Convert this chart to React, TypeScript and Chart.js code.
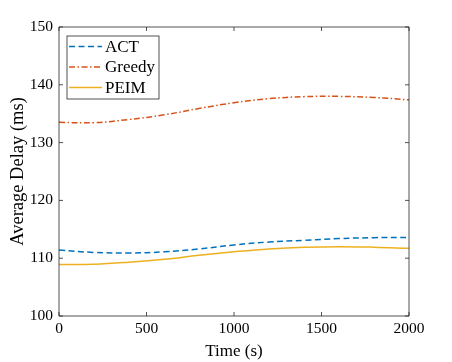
import React, { useEffect, useRef } from "react";
import { Chart, registerables } from "chart.js";

Chart.register(...registerables);

const times = [0, 200, 400, 600, 800, 1000, 1200, 1400, 1600, 1800, 2000];
const actValues = [111.4, 111.0, 110.9, 111.1, 111.6, 112.3, 112.8, 113.1, 113.4, 113.55, 113.6];
const greedyValues = [133.5, 133.45, 134.0, 134.8, 135.9, 136.9, 137.6, 137.95, 138.0, 137.8, 137.4];
const peimValues = [108.9, 108.95, 109.3, 109.8, 110.5, 111.1, 111.6, 111.9, 112.0, 111.9, 111.7];
const xTicks = [0, 500, 1000, 1500, 2000];
const yTicks = [100, 110, 120, 130, 140, 150];
const seriesNames = ["ACT", "Greedy", "PEIM"];

const FONT = "'Times New Roman', 'Liberation Serif', serif";
const AXIS_COLOR = "#262626";

const framePlugin = {
  id: "matlabFrame",
  afterDatasetsDraw(chart: any) {
    const { ctx, chartArea } = chart;
    const { left, right, top, bottom } = chartArea;
    const xs = chart.scales.x;
    const ys = chart.scales.y;
    ctx.save();
    ctx.strokeStyle = AXIS_COLOR;
    ctx.lineWidth = 0.8;
    ctx.beginPath();
    ctx.rect(left, top, right - left, bottom - top);
    const tl = 4;
    xTicks.forEach((v) => {
      const px = xs.getPixelForValue(v);
      ctx.moveTo(px, bottom);
      ctx.lineTo(px, bottom - tl);
      ctx.moveTo(px, top);
      ctx.lineTo(px, top + tl);
    });
    yTicks.forEach((v) => {
      const py = ys.getPixelForValue(v);
      ctx.moveTo(left, py);
      ctx.lineTo(left + tl, py);
      ctx.moveTo(right, py);
      ctx.lineTo(right - tl, py);
    });
    ctx.stroke();

    // legend
    const lx = left + 8;
    const ly = top + 9;
    const lw = 92;
    const lh = 63;
    ctx.fillStyle = "#ffffff";
    ctx.fillRect(lx, ly, lw, lh);
    ctx.strokeStyle = AXIS_COLOR;
    ctx.lineWidth = 0.8;
    ctx.strokeRect(lx, ly, lw, lh);
    ctx.font = `17px ${FONT}`;
    ctx.textBaseline = "middle";
    ctx.textAlign = "left";
    chart.data.datasets.forEach((ds: any, i: number) => {
      const ry = ly + 10.5 + i * 20.5;
      ctx.beginPath();
      ctx.strokeStyle = ds.borderColor;
      ctx.lineWidth = ds.borderWidth;
      ctx.setLineDash(ds.borderDash || []);
      ctx.moveTo(lx + 2, ry);
      ctx.lineTo(lx + 35, ry);
      ctx.stroke();
      ctx.setLineDash([]);
      ctx.fillStyle = "#000000";
      ctx.fillText(ds.label, lx + 38, ry + 1);
    });
    ctx.restore();
  },
};

export default function App() {
  const canvasRef = useRef<HTMLCanvasElement | null>(null);

  useEffect(() => {
    document.body.style.margin = "0";
    const canvas = canvasRef.current;
    if (!canvas) return;
    const mk = (arr: number[]) => times.map((t, i) => ({ x: t, y: arr[i] }));
    const chart = new Chart(canvas, {
      type: "line",
      data: {
        datasets: [
          {
            label: seriesNames[0],
            data: mk(actValues),
            borderColor: "#0072BD",
            borderWidth: 1.5,
            borderDash: [6, 3.5],
            pointRadius: 0,
            tension: 0.4,
            fill: false,
          },
          {
            label: seriesNames[1],
            data: mk(greedyValues),
            borderColor: "#D95319",
            borderWidth: 1.5,
            borderDash: [6, 2.5, 1.5, 2.5],
            pointRadius: 0,
            tension: 0.4,
            fill: false,
          },
          {
            label: seriesNames[2],
            data: mk(peimValues),
            borderColor: "#EDB120",
            borderWidth: 1.5,
            pointRadius: 0,
            tension: 0.4,
            fill: false,
          },
        ],
      },
      options: {
        responsive: false,
        animation: false,
        layout: { padding: { left: 0, top: 27, right: 43, bottom: 0 } },
        plugins: { legend: { display: false }, tooltip: { enabled: false } },
        scales: {
          x: {
            type: "linear",
            min: 0,
            max: 2000,
            afterBuildTicks: (s: any) => {
              s.ticks = xTicks.map((v) => ({ value: v }));
            },
            afterFit: (s: any) => {
              s.height = 46;
            },
            grid: { display: false, drawTicks: false },
            border: { display: false },
            ticks: {
              color: "#000",
              font: { family: FONT, size: 15.5 },
              padding: 4,
              maxRotation: 0,
              callback: (v: any) => String(v),
            },
            title: {
              display: true,
              text: "Time (s)",
              color: "#000",
              font: { family: FONT, size: 17, lineHeight: 1.2 },
              padding: { top: 0, bottom: 0 },
            },
          },
          y: {
            type: "linear",
            min: 100,
            max: 150,
            afterBuildTicks: (s: any) => {
              s.ticks = yTicks.map((v) => ({ value: v }));
            },
            afterFit: (s: any) => {
              s.width = 59;
            },
            grid: { display: false, drawTicks: false },
            border: { display: false },
            ticks: {
              color: "#000",
              font: { family: FONT, size: 15.5 },
              padding: 6,
              callback: (v: any) => String(v),
            },
            title: {
              display: true,
              text: "Average Delay (ms)",
              color: "#000",
              font: { family: FONT, size: 18.5, lineHeight: 1.2 },
              padding: { top: 7, bottom: 0 },
            },
          },
        },
      },
      plugins: [framePlugin],
    } as any);
    return () => chart.destroy();
  }, []);

  return <canvas ref={canvasRef} width={452} height={362} style={{ display: "block" }} />;
}
